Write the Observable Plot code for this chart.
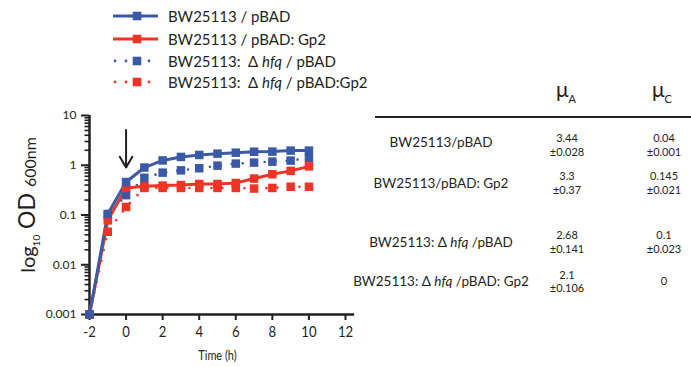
<!DOCTYPE html>
<html>
<head>
<meta charset="utf-8">
<script src="https://cdn.jsdelivr.net/npm/d3@7"></script>
<script src="https://cdn.jsdelivr.net/npm/@observablehq/plot@0.6"></script>
<style>
  html, body { margin: 0; padding: 0; background: #fff; }
  #wrap { position: relative; width: 691px; height: 367px; font-family: Lato, "Open Sans", sans-serif; color: #231f20; overflow: hidden; }
  #wrap > svg { position: absolute; left: 0; top: 0; }
  .abs { position: absolute; white-space: nowrap; }
  .lg { font-size: 15px; transform: translateY(-50%); }
  .cell { transform: translate(-50%, -50%); text-align: center; }
  .lab { font-size: 13.5px; }
  .val { font-size: 11px; line-height: 13.5px; }
</style>
</head>
<body>
<div id="wrap"></div>
<script>
// ---- data ----
const time = [-2, -1, 0, 1, 2, 3, 4, 5, 6, 7, 8, 9, 10];
const wtPBAD  = [0.001, 0.105, 0.46, 0.9, 1.25, 1.47, 1.61, 1.71, 1.79, 1.87, 1.88, 1.97, 1.97];
const wtGp2   = [0.001, 0.078, 0.35, 0.38, 0.39, 0.40, 0.42, 0.42, 0.44, 0.54, 0.66, 0.77, 0.95];
const hfqPBAD = [0.001, 0.1, 0.25, 0.56, 0.71, 0.79, 0.87, 0.98, 1.08, 1.13, 1.18, 1.24, 1.4];
const hfqGp2  = [0.001, 0.046, 0.145, 0.35, 0.35, 0.35, 0.35, 0.35, 0.35, 0.34, 0.35, 0.37, 0.37];
const seriesNames = ["BW25113 / pBAD", "BW25113 / pBAD: Gp2", "BW25113:  Δ hfq / pBAD", "BW25113:  Δ hfq / pBAD:Gp2"];
const xTicks = [-2, 0, 2, 4, 6, 8, 10, 12];
const yTicks = [0.001, 0.01, 0.1, 1, 10];
const arrowTime = 0, arrowFrom = 5.1, arrowTo = 0.9;

// table
const strains = ["BW25113/pBAD", "BW25113/pBAD: Gp2", "BW25113: Δ hfq /pBAD", "BW25113: Δ hfq /pBAD: Gp2"];
const muA = ["3.44", "3.3", "2.68", "2.1"];
const muAerr = ["±0.028", "±0.37", "±0.141", "±0.106"];
const muC = ["0.04", "0.145", "0.1", "0"];
const muCerr = ["±0.001", "±0.021", "±0.023", ""];

// ---- style / layout ----
const BLUE = "#3a5aa8", RED = "#ee3427";
const seriesStyle = [
  {color: BLUE, dotted: false},
  {color: RED, dotted: false},
  {color: BLUE, dotted: true},
  {color: RED, dotted: true}
];
const allValues = [wtPBAD, wtGp2, hfqPBAD, hfqGp2];
const rows = [];
allValues.forEach((vals, s) => vals.forEach((v, i) => rows.push({series: s, t: time[i], od: v})));
const minors = [];
for (let e = -3; e < 1; e++) for (let k = 2; k <= 9; k++) minors.push(k * Math.pow(10, e));

const drawOrder = [3, 2, 1, 0];
const lineMarks = [];
for (const s of drawOrder) {
  const d = rows.filter(r => r.series === s);
  const st = seriesStyle[s];
  lineMarks.push(Plot.line(d, st.dotted
    ? {x: "t", y: "od", stroke: st.color, strokeWidth: 2.6, strokeDasharray: "0 11", strokeLinecap: "round"}
    : {x: "t", y: "od", stroke: st.color, strokeWidth: 3}));
}
const dotMarks = [];
for (const s of drawOrder) {
  const d = rows.filter(r => r.series === s);
  dotMarks.push(Plot.dot(d, {x: "t", y: "od", symbol: "square", r: 4.8, fill: seriesStyle[s].color, stroke: "none"}));
}

const chart = Plot.plot({
  width: 691, height: 367,
  marginLeft: 89, marginRight: 346, marginTop: 115, marginBottom: 53,
  x: {domain: [-2, 12]},
  y: {type: "log", domain: [0.001, 10]},
  style: {fontFamily: "Lato, 'Open Sans', sans-serif", background: "transparent", overflow: "visible", color: "#231f20"},
  marks: [
    Plot.axisY(minors, {tickSize: 4.5, tickFormat: () => "", strokeWidth: 1.6, label: null}),
    Plot.axisY(yTicks, {tickSize: 8, tickPadding: 5, strokeWidth: 2, fontSize: 12, tickFormat: d => String(d), label: null}),
    Plot.axisX(xTicks, {tickSize: 6, tickPadding: 5, strokeWidth: 2, fontSize: 16, tickFormat: d => String(d), label: null}),
    Plot.text(["Time (h)"], {frameAnchor: "bottom", lineAnchor: "middle", dy: 41, fontSize: 14}),
    Plot.ruleX([-2], {strokeWidth: 2.5}),
    Plot.ruleY([0.001], {x1: -2, x2: 12.5, strokeWidth: 2.5}),
    ...lineMarks,
    ...dotMarks,
    Plot.arrow([{t: arrowTime, a: arrowFrom, b: arrowTo}], {x1: "t", x2: "t", y1: "a", y2: "b", strokeWidth: 2, headLength: 11, inset: 0, stroke: "#231f20"})
  ]
});

const wrap = document.getElementById("wrap");
wrap.appendChild(chart);
const svg = d3.select(chart);
// condensed look for x tick labels & x title
svg.selectAll("g[aria-label='x-axis tick label'] text").each(function() {
  const t = this.getAttribute("transform") || "";
  this.setAttribute("transform", t + " scale(0.82,1)");
});
svg.selectAll("text").filter(function() { return this.textContent === "Time (h)"; }).each(function() {
  const t = this.getAttribute("transform") || "";
  this.setAttribute("transform", t + " scale(0.78,1)");
});

// y-axis label with subscripts
const yl = svg.append("text")
  .attr("transform", "translate(35,205) rotate(-90)")
  .attr("text-anchor", "middle")
  .attr("fill", "#231f20")
  .style("font-family", "Lato, 'Open Sans', sans-serif");
yl.append("tspan").attr("font-size", 20).text("log");
yl.append("tspan").attr("font-size", 10).attr("dy", 5).text("10");
yl.append("tspan").attr("font-size", 23).attr("dy", -5).text(" OD ");
yl.append("tspan").attr("font-size", 16).attr("dy", 1).text("600nm");

// legend
const legendY = [16, 39, 61, 82];
seriesNames.forEach((name, i) => {
  const st = seriesStyle[i];
  const sw = d3.select(wrap).append("svg")
    .attr("width", 52).attr("height", 14)
    .style("position", "absolute").style("left", "110px").style("top", (legendY[i] - 7) + "px");
  if (st.dotted) {
    for (const cx of [5, 16, 39]) sw.append("circle").attr("cx", cx).attr("cy", 7).attr("r", 1.4).attr("fill", st.color);
  } else {
    sw.append("line").attr("x1", 3).attr("x2", 48).attr("y1", 7).attr("y2", 7).attr("stroke", st.color).attr("stroke-width", 3);
  }
  sw.append("rect").attr("x", 27 - 4.3).attr("y", 7 - 4.3).attr("width", 8.6).attr("height", 8.6).attr("fill", st.color);
  const parts = name.split("hfq");
  const div = d3.select(wrap).append("div").attr("class", "abs lg")
    .style("left", "168px").style("top", legendY[i] + "px");
  if (parts.length > 1) {
    div.append("span").text(parts[0].replace("  ", "\u00a0 "));
    div.append("i").text("hfq");
    div.append("span").text(parts[1]);
  } else div.text(name);
});

// table
const W = d3.select(wrap);
const hdr = [["μ", "A", 566], ["μ", "C", 662]];
for (const [m, sub, x] of hdr) {
  const h = W.append("div").attr("class", "abs cell").style("left", x + "px").style("top", "88px");
  h.append("span").style("font-size", "21px").text(m);
  h.append("span").style("font-size", "11px").style("position", "relative").style("top", "6px").text(sub);
}
W.append("div").attr("class", "abs").style("left", "375px").style("top", "115.5px")
  .style("width", "316px").style("height", "2.5px").style("background", "#231f20");
const rowY = [142, 183, 242, 281];
const valY = [144, 182, 241, 280.5];
strains.forEach((s, i) => {
  const d = W.append("div").attr("class", "abs cell lab").style("left", "441px").style("top", rowY[i] + "px");
  const p = s.split("hfq");
  if (p.length > 1) { d.append("span").text(p[0]); d.append("i").text("hfq"); d.append("span").text(p[1]); }
  else d.text(s);
  const a = W.append("div").attr("class", "abs cell val").style("left", "567px").style("top", valY[i] + "px");
  a.html(muA[i] + "<br>" + muAerr[i]);
  const c = W.append("div").attr("class", "abs cell val").style("left", "664px").style("top", (muCerr[i] ? valY[i] : rowY[i]) + "px");
  c.html(muCerr[i] ? muC[i] + "<br>" + muCerr[i] : muC[i]);
});
</script>
</body>
</html>
